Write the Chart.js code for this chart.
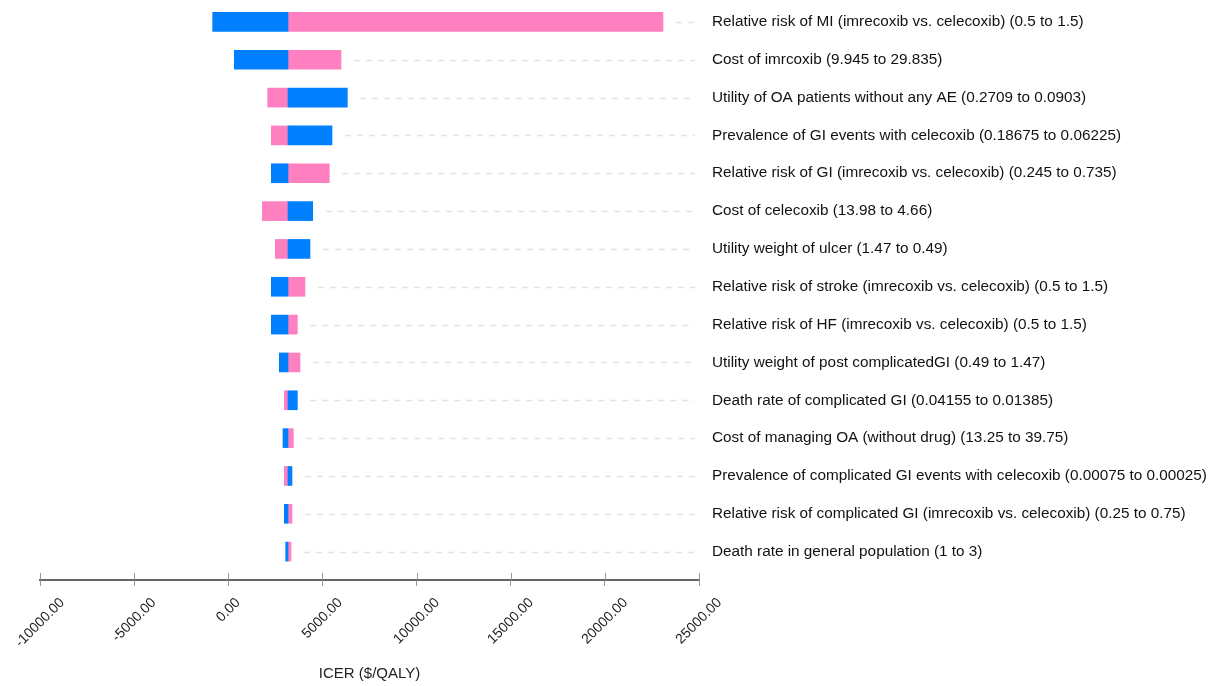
<!DOCTYPE html>
<html>
<head>
<meta charset="utf-8">
<script src="https://cdn.jsdelivr.net/npm/chart.js@4.4.1/dist/chart.umd.min.js"></script>
<style>
  html, body { margin:0; padding:0; background:#fff; }
  #wrap { width:1221px; height:686px; }
</style>
</head>
<body>
<div id="wrap"><canvas id="tornado"></canvas></div>
<script>
// ── Data ──
const labels = [
    'Relative risk of MI (imrecoxib vs. celecoxib) (0.5 to 1.5)',
    'Cost of imrcoxib (9.945 to 29.835)',
    'Utility of OA patients without any AE (0.2709 to 0.0903)',
    'Prevalence of GI events with celecoxib (0.18675 to 0.06225)',
    'Relative risk of GI (imrecoxib vs. celecoxib) (0.245 to 0.735)',
    'Cost of celecoxib (13.98 to 4.66)',
    'Utility weight of ulcer (1.47 to 0.49)',
    'Relative risk of stroke (imrecoxib vs. celecoxib) (0.5 to 1.5)',
    'Relative risk of HF (imrecoxib vs. celecoxib) (0.5 to 1.5)',
    'Utility weight of post complicatedGI (0.49 to 1.47)',
    'Death rate of complicated GI (0.04155 to 0.01385)',
    'Cost of managing OA (without drug) (13.25 to 39.75)',
    'Prevalence of complicated GI events with celecoxib (0.00075 to 0.00025)',
    'Relative risk of complicated GI (imrecoxib vs. celecoxib) (0.25 to 0.75)',
    'Death rate in general population (1 to 3)'
];
const baseIcer = 3171;
const blueIcer = [-828, 320, 6322, 5508, 2285, 4482, 4340, 2285, 2285, 2710, 3667, 2906, 3383, 2976, 3047];
const pinkIcer = [23087, 5986, 2092, 2285, 5366, 1808, 2497, 4074, 3667, 3809, 2976, 3454, 2976, 3383, 3330];
const xTicks   = [-10000, -5000, 0, 5000, 10000, 15000, 20000, 25000];

const FONT = "'Liberation Sans', Arial, sans-serif";
const BLUE = '#0080ff', PINK = '#ff80c0';

function toBars(vals) {
    return vals.map((v, i) => ({ x: [baseIcer, v], y: i }));
}

// dashed guide from bar end to the right edge, tick marks above the axis,
// and x tick labels rotated 45° about their centre (centred on the tick)
const guidePlugin = {
    id: 'guides',
    beforeDatasetsDraw(chart) {
        const { ctx, chartArea, scales: { x, y } } = chart;
        ctx.save();
        ctx.strokeStyle = '#e2e2e2';
        ctx.lineWidth = 1.5;
        ctx.setLineDash([6, 6]);
        labels.forEach((_, i) => {
            const end = Math.max(baseIcer, blueIcer[i], pinkIcer[i]);
            const px = x.getPixelForValue(end) + 13;
            const py = Math.round(y.getPixelForValue(i)) + 0.5;
            ctx.beginPath(); ctx.moveTo(px, py); ctx.lineTo(chartArea.right - 4, py); ctx.stroke();
        });
        ctx.restore();
    },
    afterDraw(chart) {
        const { ctx, chartArea, scales: { x } } = chart;
        ctx.save();
        ctx.strokeStyle = '#999';
        ctx.lineWidth = 1;
        xTicks.forEach(t => {
            const px = Math.round(x.getPixelForValue(t)) + 0.5;
            ctx.beginPath(); ctx.moveTo(px, chartArea.bottom - 7); ctx.lineTo(px, chartArea.bottom); ctx.stroke();
        });
        ctx.font = '14px ' + FONT;
        ctx.fillStyle = '#222';
        ctx.textAlign = 'center';
        ctx.textBaseline = 'middle';
        const top = chartArea.bottom + 17;
        xTicks.forEach(t => {
            const txt = t.toFixed(2);
            const w = ctx.measureText(txt).width;
            const cx = x.getPixelForValue(t);
            const cy = top + (w + 10) * Math.SQRT1_2 / 2;
            ctx.save();
            ctx.translate(cx, cy);
            ctx.rotate(-Math.PI / 4);
            ctx.fillText(txt, 0, 0);
            ctx.restore();
        });
        ctx.restore();
    }
};

new Chart(document.getElementById('tornado').getContext('2d'), {
    type: 'bar',
    plugins: [guidePlugin],
    data: {
        datasets: [
            { label: 'low', data: toBars(blueIcer), backgroundColor: BLUE, grouped: false, barThickness: 19 },
            { label: 'high', data: toBars(pinkIcer), backgroundColor: PINK, grouped: false, barThickness: 19 }
        ]
    },
    options: {
        indexAxis: 'y',
        responsive: true, maintainAspectRatio: false, animation: false,
        layout: { padding: { top: 3 } },
        plugins: { legend: { display: false }, tooltip: { enabled: false } },
        scales: {
            x: {
                type: 'linear', min: -10000, max: 25000,
                afterBuildTicks: (s) => { s.ticks = xTicks.map(v => ({ value: v })); },
                afterFit: (s) => { s.height = 106; s.paddingLeft = 40; s.paddingRight = 0; },
                grid: { drawOnChartArea: false, drawTicks: true, tickLength: 6, color: '#999' },
                border: { display: true, color: '#666', width: 2 },
                ticks: { display: false },
                title: { display: true, text: 'ICER ($/QALY)', color: '#222', font: { family: FONT, size: 15 }, padding: { top: 4, bottom: 3 } }
            },
            y: {
                type: 'linear', position: 'right', reverse: true, min: -0.5, max: 14.75, offset: false,
                afterBuildTicks: (s) => { s.ticks = labels.map((_, i) => ({ value: i })); },
                afterFit: (s) => { s.width = 522; s.paddingTop = 0; s.paddingBottom = 0; },
                grid: { display: false },
                border: { display: false },
                ticks: {
                    autoSkip: false, padding: 5, color: '#111',
                    font: { family: FONT, size: 15.3 },
                    callback: (v) => labels[v]
                }
            }
        }
    }
});
</script>
</body>
</html>
